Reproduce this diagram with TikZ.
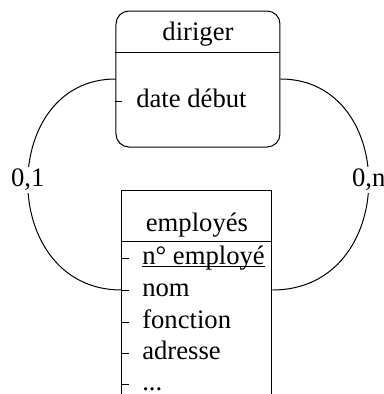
\documentclass[tikz,border=0pt]{standalone}
\usepackage{fontspec}
\setmainfont{Liberation Serif}
\usetikzlibrary{positioning}

\begin{document}
\fontsize{20}{24}\selectfont
\begin{tikzpicture}[x=0.75pt,y=0.75pt,yscale=-1,xscale=1,
  every node/.style={font=\fontsize{20}{24}\selectfont},
  attr/.style={anchor=mid west,inner sep=0},
  card/.style={fill=white,inner sep=1.5pt}]
%set diagram left start at 0, and has height of 394
\clip (0,0) rectangle (384,394);

%Rounded Rect [id:diriger]
\node [draw,line width=0.75,rounded corners=9.75pt,minimum width=123pt,minimum height=102pt] (diriger) at (198,79) {};
\coordinate (dirsep) at (198,52);
\draw [line width=0.75] (dirsep -| diriger.west) -- (dirsep -| diriger.east) ;
% Text Node
\node [anchor=base,inner sep=0] (dirtitre) at (198,40) {diriger};
\node [attr] (datedebut) at (136,101) {date début};
\draw [line width=0.75] (diriger.west |- datedebut.mid west) -- ++(7,0) ;

%Shape: Rectangle [id:employes]
\node [draw,line width=0.75,minimum width=112.5pt,minimum height=172.5pt] (employes) at (197,305) {};
\coordinate (empsep) at (197,241);
\draw [line width=0.75] (empsep -| employes.west) -- (empsep -| employes.east) ;
% Text Node
\node [anchor=base,inner sep=0] (emptitre) at (197,231) {employés};
\node [attr] (numero) at (142,258) {\underline{\smash{n° employé}}};
\node [attr] (nom) at (142,290) {nom};
\node [attr] (fonction) at (142,322) {fonction};
\node [attr] (adresse) at (142,353) {adresse};
\node [attr] (suite) at (142,384) {...};
%Straight Lines
\draw [line width=0.75] (employes.west |- numero.mid west) -- ++(8,0) ;
\draw [line width=0.75] (employes.west |- nom.mid west) -- ++(8,0) ;
\draw [line width=0.75] (employes.west |- fonction.mid west) -- ++(8,0) ;
\draw [line width=0.75] (employes.west |- adresse.mid west) -- ++(8,0) ;
\draw [line width=0.75] (employes.west |- suite.mid west) -- ++(8,0) ;

%Curve Lines
\draw [line width=0.75] (diriger.west) .. controls +(-118,0) and +(-124,0) .. (employes.west |- nom.mid west) node [card,pos=0.486] (card01) {0,1} ;
\draw [line width=0.75] (diriger.east) .. controls +(119,0) and +(127,0) .. (employes.east |- nom.mid west) node [card,pos=0.486] (card0n) {0,n} ;
\end{tikzpicture}
\end{document}
